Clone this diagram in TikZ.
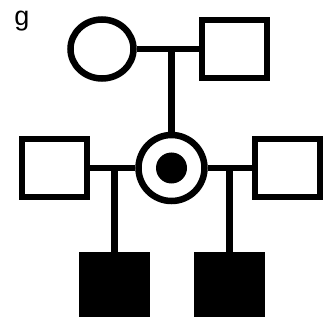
\documentclass[tikz,border=0pt]{standalone}
\usepackage{fontspec}
\setsansfont{Liberation Sans}
\usetikzlibrary{shapes.geometric}

\begin{document}
\begin{tikzpicture}[x=1pt,y=-1pt,line width=6.5pt,
  female/.style={ellipse,draw,fill=white,inner sep=0pt,minimum width=63pt,minimum height=59pt},
  male/.style={rectangle,draw,fill=white,inner sep=0pt,minimum width=65pt,minimum height=58pt},
  affected/.style={male,fill=black},
  carrier/.style={circle,draw,fill=white,inner sep=0pt,minimum size=66pt},
  spot/.style={circle,fill=black,inner sep=0pt,minimum size=31pt}]

\useasboundingbox (0,0) rectangle (323,320);

% Panel label
\node[font=\sffamily\fontsize{27}{30}\selectfont] (lbl) at (22,21) {g};

% Grandparents
\node[female] (gm) at (102,49) {};
\node[male] (gf) at (234.5,49) {};
\coordinate (u1) at (171.5,49);

% Mother (carrier) and her two partners
\node[male] (f1) at (54.5,168) {};
\node[carrier] (mo) at (171.5,168) {};
\node[spot] (mos) at (mo) {};
\node[male] (f2) at (287.5,168) {};

% Affected sons
\node[affected] (s1) at (114.5,284.5) {};
\node[affected] (s2) at (229.5,284.5) {};

% Lines
\draw (gm) -- (gf);
\draw (u1) -- (mo);
\draw (f1) -- (mo);
\draw (mo) -- (f2);
\draw (s1) -- (s1 |- f1);
\draw (s2) -- (s2 |- f2);

\end{tikzpicture}
\end{document}
